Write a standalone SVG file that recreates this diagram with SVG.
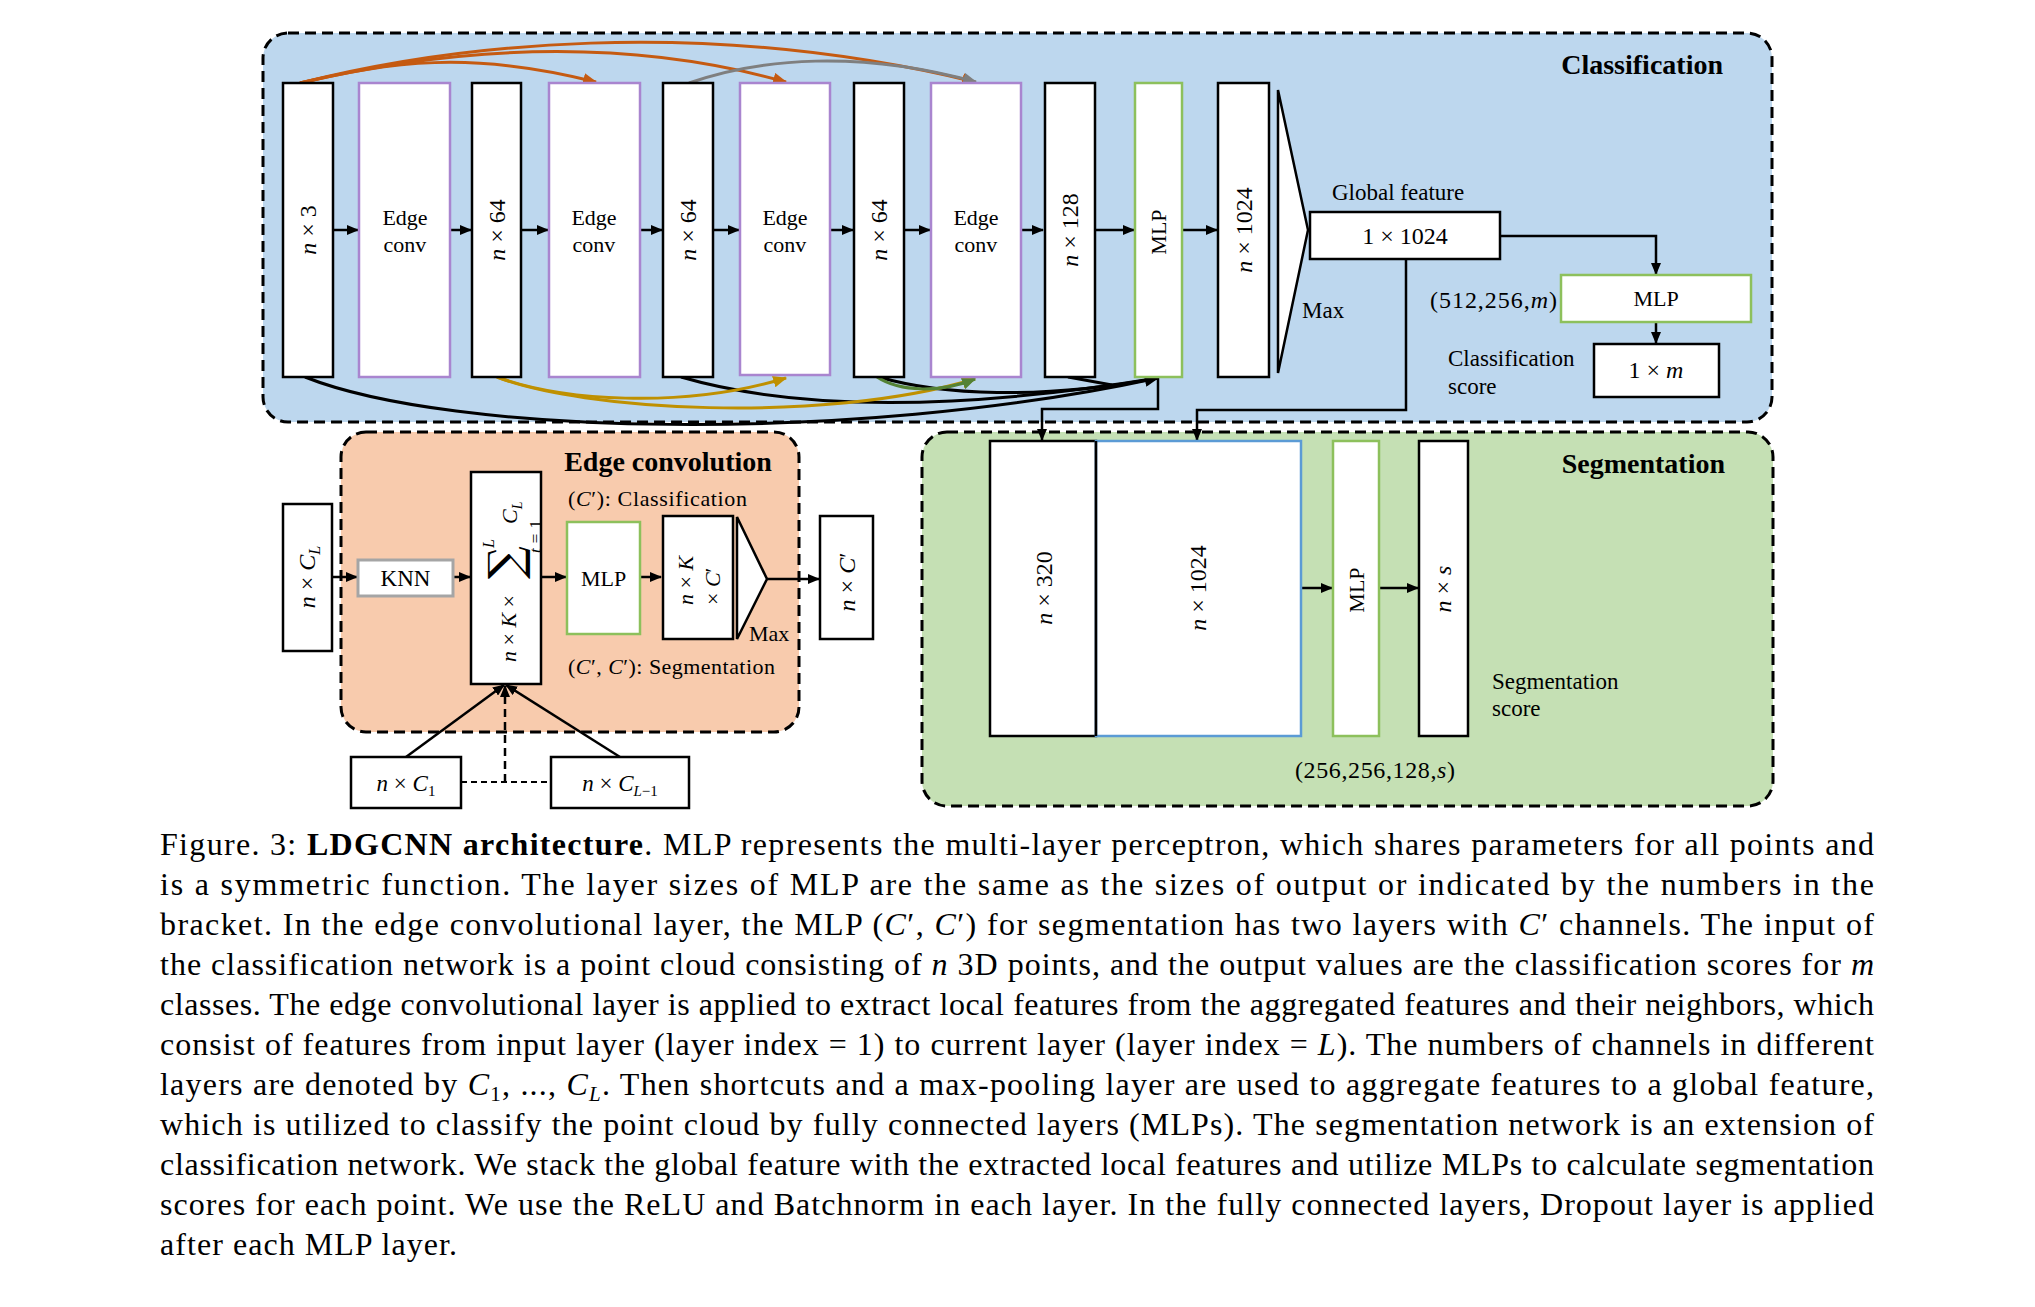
<svg xmlns="http://www.w3.org/2000/svg" width="2035" height="1307" viewBox="0 0 2035 1307">
<style>
.t{font-family:"Liberation Serif","Times New Roman",serif;fill:#000}
.m{font-style:italic}
.box{fill:#fff;stroke:#000;stroke-width:2.5}
.ec{fill:#fff;stroke:#A985CF;stroke-width:2.5}
.mlp{fill:#fff;stroke:#8DC05C;stroke-width:2.5}
.ln{fill:none;stroke:#000;stroke-width:2.5}
.cv{fill:none;stroke-width:3}
.cap{font-family:"Liberation Serif","Times New Roman",serif;font-size:32px;fill:#000}
.region{stroke:#000;stroke-width:3;stroke-dasharray:11 6}
</style>
<defs>
<marker id="ab" viewBox="0 0 12 10" refX="11" refY="5" markerWidth="12" markerHeight="10" markerUnits="userSpaceOnUse" orient="auto"><path d="M0,0 L12,5 L0,10 z" fill="#000"/></marker>
<marker id="ao" viewBox="0 0 12 10" refX="11" refY="5" markerWidth="14" markerHeight="12" markerUnits="userSpaceOnUse" orient="auto"><path d="M0,0 L12,5 L0,10 z" fill="#C55A11"/></marker>
<marker id="ag" viewBox="0 0 12 10" refX="11" refY="5" markerWidth="14" markerHeight="12" markerUnits="userSpaceOnUse" orient="auto"><path d="M0,0 L12,5 L0,10 z" fill="#7F7F7F"/></marker>
<marker id="ay" viewBox="0 0 12 10" refX="11" refY="5" markerWidth="14" markerHeight="12" markerUnits="userSpaceOnUse" orient="auto"><path d="M0,0 L12,5 L0,10 z" fill="#BF9000"/></marker>
<marker id="an" viewBox="0 0 12 10" refX="11" refY="5" markerWidth="14" markerHeight="12" markerUnits="userSpaceOnUse" orient="auto"><path d="M0,0 L12,5 L0,10 z" fill="#548235"/></marker>
<marker id="ak" viewBox="0 0 12 10" refX="11" refY="5" markerWidth="15" markerHeight="12" markerUnits="userSpaceOnUse" orient="auto"><path d="M0,0 L12,5 L0,10 z" fill="#000"/></marker>
</defs>
<rect width="2035" height="1307" fill="#fff"/>

<!-- Regions -->
<g id="region-classification">
<rect class="region" x="263" y="33" width="1509" height="389" rx="25" fill="#BDD7EE"/>
<text class="t" x="1723" y="74" font-size="28" font-weight="bold" text-anchor="end">Classification</text>
</g>
<g id="region-edgeconv">
<rect class="region" x="341" y="432" width="458" height="300" rx="25" fill="#F8CBAD"/>
<text class="t" x="668" y="471" font-size="28" font-weight="bold" text-anchor="middle">Edge convolution</text>
<text class="t" x="568" y="506" font-size="22" textLength="179" lengthAdjust="spacing">(<tspan class="m">C</tspan>′): Classification</text>
<text class="t" x="568" y="674" font-size="22" textLength="207" lengthAdjust="spacing">(<tspan class="m">C</tspan>′, <tspan class="m">C</tspan>′): Segmentation</text>
</g>
<g id="region-segmentation">
<rect class="region" x="922" y="432" width="851" height="374" rx="25" fill="#C5E0B4"/>
<text class="t" x="1725" y="473" font-size="28" font-weight="bold" text-anchor="end">Segmentation</text>
</g>

<!-- Connectors -->
<g id="connectors">
<path class="ln" d="M333 230 H358" marker-end="url(#ab)"/>
<path class="ln" d="M450 230 H471" marker-end="url(#ab)"/>
<path class="ln" d="M521 230 H548" marker-end="url(#ab)"/>
<path class="ln" d="M640 230 H662" marker-end="url(#ab)"/>
<path class="ln" d="M713 230 H739" marker-end="url(#ab)"/>
<path class="ln" d="M830 230 H853" marker-end="url(#ab)"/>
<path class="ln" d="M904 230 H930" marker-end="url(#ab)"/>
<path class="ln" d="M1021 230 H1043" marker-end="url(#ab)"/>
<path class="ln" d="M1095 230 H1134" marker-end="url(#ab)"/>
<path class="ln" d="M1182 230 H1217" marker-end="url(#ab)"/>
<path class="cv" stroke="#C55A11" d="M300 83 C390 62 470 50 596 82" marker-end="url(#ao)"/>
<path class="cv" stroke="#C55A11" d="M300 83 C420 55 600 30 786 82" marker-end="url(#ao)"/>
<path class="cv" stroke="#C55A11" d="M300 83 C450 45 700 15 975 82" marker-end="url(#ao)"/>
<path class="cv" stroke="#7F7F7F" d="M689 83 C760 58 860 50 976 82" marker-end="url(#ag)"/>
<path class="cv" stroke="#000" d="M681 377 C760 400 900 420 1158 378"/>
<path class="cv" stroke="#000" d="M879 377 C940 395 1040 400 1158 378"/>
<path class="cv" stroke="#000" d="M1068 377 L1112 385"/>
<path class="cv" stroke="#000" d="M305 377 C450 435 850 445 1158 378" marker-end="url(#ak)"/>
<path class="cv" stroke="#BF9000" d="M497 377 C560 400 680 410 786 378" marker-end="url(#ay)"/>
<path class="cv" stroke="#BF9000" d="M497 377 C580 410 820 425 975 379" marker-end="url(#ay)"/>
<path class="cv" stroke="#548235" d="M877 377 C900 392 940 393 975 379" marker-end="url(#an)"/>
<path class="ln" d="M1500 236 H1656 V274" marker-end="url(#ab)"/>
<path class="ln" d="M1656 322 V343" marker-end="url(#ab)"/>
<path class="ln" d="M1158 378 V409 H1042 V440" marker-end="url(#ab)"/>
<path class="ln" d="M1406 259 V410 H1197 V440" marker-end="url(#ab)"/>
<path class="ln" d="M1300 588 H1332" marker-end="url(#ab)"/>
<path class="ln" d="M1379 588 H1418" marker-end="url(#ab)"/>
<path class="ln" d="M332 577 H357" marker-end="url(#ab)"/>
<path class="ln" d="M453 577 H470" marker-end="url(#ab)"/>
<path class="ln" d="M541 577 H566" marker-end="url(#ab)"/>
<path class="ln" d="M640 577 H661" marker-end="url(#ab)"/>
<path class="ln" d="M767 579 H819" marker-end="url(#ab)"/>
<path class="ln" d="M406 757 L504 685" marker-end="url(#ab)"/>
<path class="ln" d="M620 757 L506 685" marker-end="url(#ab)"/>
<path fill="none" stroke="#000" stroke-width="2" stroke-dasharray="6 4" d="M461 782 H551"/>
<path fill="none" stroke="#000" stroke-width="2.5" stroke-dasharray="8 5" d="M505 782 V686" marker-end="url(#ab)"/>
</g>

<!-- Top row nodes -->
<g id="n-in">
<rect class="box" x="283" y="83" width="50" height="294"/>
<text class="t" transform="rotate(-90)" x="-230" y="316" font-size="24" text-anchor="middle"><tspan class="m">n</tspan> × 3</text>
</g>
<g id="ec1">
<rect class="ec" x="359" y="83" width="91" height="294"/>
<text class="t" x="405" y="225" font-size="22" text-anchor="middle">Edge</text>
<text class="t" x="405" y="252" font-size="22" text-anchor="middle">conv</text>
</g>
<g id="f1">
<rect class="box" x="472" y="83" width="49" height="294"/>
<text class="t" transform="rotate(-90)" x="-230" y="505" font-size="24" text-anchor="middle"><tspan class="m">n</tspan> × 64</text>
</g>
<g id="ec2">
<rect class="ec" x="549" y="83" width="91" height="294"/>
<text class="t" x="594" y="225" font-size="22" text-anchor="middle">Edge</text>
<text class="t" x="594" y="252" font-size="22" text-anchor="middle">conv</text>
</g>
<g id="f2">
<rect class="box" x="663" y="83" width="50" height="294"/>
<text class="t" transform="rotate(-90)" x="-230" y="696" font-size="24" text-anchor="middle"><tspan class="m">n</tspan> × 64</text>
</g>
<g id="ec3">
<rect class="ec" x="740" y="83" width="90" height="292"/>
<text class="t" x="785" y="225" font-size="22" text-anchor="middle">Edge</text>
<text class="t" x="785" y="252" font-size="22" text-anchor="middle">conv</text>
</g>
<g id="f3">
<rect class="box" x="854" y="83" width="50" height="294"/>
<text class="t" transform="rotate(-90)" x="-230" y="887" font-size="24" text-anchor="middle"><tspan class="m">n</tspan> × 64</text>
</g>
<g id="ec4">
<rect class="ec" x="931" y="83" width="90" height="294"/>
<text class="t" x="976" y="225" font-size="22" text-anchor="middle">Edge</text>
<text class="t" x="976" y="252" font-size="22" text-anchor="middle">conv</text>
</g>
<g id="f4">
<rect class="box" x="1045" y="83" width="50" height="294"/>
<text class="t" transform="rotate(-90)" x="-230" y="1078" font-size="24" text-anchor="middle"><tspan class="m">n</tspan> × 128</text>
</g>
<g id="mlp1">
<rect class="mlp" x="1135" y="83" width="47" height="294"/>
<text class="t" transform="rotate(-90)" x="-232" y="1166" font-size="22" text-anchor="middle">MLP</text>
</g>
<g id="f5">
<rect class="box" x="1218" y="83" width="51" height="294"/>
<text class="t" transform="rotate(-90)" x="-230" y="1252" font-size="24" text-anchor="middle"><tspan class="m">n</tspan> × 1024</text>
</g>
<g id="maxpool">
<path d="M1278 90 L1308 230 L1278 373 Z" fill="#fff" stroke="#000" stroke-width="2.5"/>
<text class="t" x="1302" y="318" font-size="23">Max</text>
</g>
<g id="global">
<text class="t" x="1332" y="200" font-size="23">Global feature</text>
<rect class="box" x="1310" y="212" width="190" height="47"/>
<text class="t" x="1405" y="244" font-size="24" text-anchor="middle">1 × 1024</text>
</g>
<g id="mlp-cls">
<text class="t" x="1430" y="308" font-size="24" textLength="127" lengthAdjust="spacing">(512,256,<tspan class="m">m</tspan>)</text>
<rect class="mlp" x="1561" y="275" width="190" height="47"/>
<text class="t" x="1656" y="306" font-size="22" text-anchor="middle">MLP</text>
</g>
<g id="cls-score">
<text class="t" x="1448" y="366" font-size="23">Classification</text>
<text class="t" x="1448" y="394" font-size="23">score</text>
<rect class="box" x="1594" y="344" width="125" height="53"/>
<text class="t" x="1656" y="378" font-size="24" text-anchor="middle">1 × <tspan class="m">m</tspan></text>
</g>

<!-- Edge convolution nodes -->
<g id="ec-in">
<rect class="box" x="283" y="504" width="49" height="147"/>
<text class="t" transform="rotate(-90)" x="-577" y="315" font-size="24" text-anchor="middle"><tspan class="m">n</tspan> × <tspan class="m">C</tspan><tspan class="m" font-size="16" dy="5">L</tspan></text>
</g>
<g id="knn">
<rect x="358" y="560" width="95" height="36" fill="#fff" stroke="#A5A5A5" stroke-width="3"/>
<text class="t" x="405.5" y="586" font-size="23" text-anchor="middle">KNN</text>
</g>
<g id="agg">
<rect class="box" x="471" y="472" width="70" height="212"/>
<g transform="rotate(-90)">
<text class="t" x="-662" y="516" font-size="22"><tspan class="m">n</tspan> × <tspan class="m">K</tspan> ×</text>
<text x="-579" y="521" font-size="46" font-family="DejaVu Serif, serif">∑</text>
<text class="t m" x="-548" y="494" font-size="16">L</text>
<text class="t" x="-553" y="541" font-size="17" textLength="33" lengthAdjust="spacing"><tspan class="m">t</tspan>=1</text>
<text class="t" x="-524" y="517" font-size="22"><tspan class="m">C</tspan><tspan class="m" font-size="14" dy="5">L</tspan></text>
</g>
</g>
<g id="mlp-ec">
<rect class="mlp" x="567" y="522" width="73" height="112"/>
<text class="t" x="603.5" y="586" font-size="22" text-anchor="middle">MLP</text>
</g>
<g id="nkc">
<rect class="box" x="663" y="516" width="70" height="123"/>
<g transform="rotate(-90)">
<text class="t" x="-605" y="693" font-size="22"><tspan class="m">n</tspan> × <tspan class="m">K</tspan></text>
<text class="t" x="-605" y="720" font-size="22">× <tspan class="m">C</tspan>′</text>
</g>
</g>
<g id="ec-max">
<path d="M737 517 L767 579 L737 639 Z" fill="#fff" stroke="#000" stroke-width="2.5"/>
<text class="t" x="749" y="641" font-size="22">Max</text>
</g>
<g id="ec-out">
<rect class="box" x="820" y="516" width="53" height="123"/>
<text class="t" transform="rotate(-90)" x="-582" y="855" font-size="24" text-anchor="middle"><tspan class="m">n</tspan> × <tspan class="m">C</tspan>′</text>
</g>
<g id="c1">
<rect class="box" x="351" y="757" width="110" height="51"/>
<text class="t" x="406" y="791" font-size="23" text-anchor="middle"><tspan class="m">n</tspan> × <tspan class="m">C</tspan><tspan font-size="15" dy="5">1</tspan></text>
</g>
<g id="cl1">
<rect class="box" x="551" y="757" width="138" height="51"/>
<text class="t" x="620" y="791" font-size="23" text-anchor="middle"><tspan class="m">n</tspan> × <tspan class="m">C</tspan><tspan font-size="15" dy="5"><tspan class="m">L</tspan>−1</tspan></text>
</g>

<!-- Segmentation nodes -->
<g id="seg-320">
<rect class="box" x="990" y="441" width="106" height="295"/>
<text class="t" transform="rotate(-90)" x="-588" y="1052" font-size="24" text-anchor="middle"><tspan class="m">n</tspan> × 320</text>
</g>
<g id="seg-1024">
<rect x="1096" y="441" width="205" height="295" fill="#fff" stroke="#5B9BD5" stroke-width="2.5"/>
<line x1="1096" y1="441" x2="1096" y2="736" stroke="#000" stroke-width="2.5"/>
<text class="t" transform="rotate(-90)" x="-588" y="1206" font-size="24" text-anchor="middle"><tspan class="m">n</tspan> × 1024</text>
</g>
<g id="seg-mlp">
<rect class="mlp" x="1333" y="441" width="46" height="295"/>
<text class="t" transform="rotate(-90)" x="-590" y="1364" font-size="22" text-anchor="middle">MLP</text>
</g>
<g id="seg-out">
<rect class="box" x="1419" y="441" width="49" height="295"/>
<text class="t" transform="rotate(-90)" x="-589" y="1451" font-size="24" text-anchor="middle"><tspan class="m">n</tspan> × <tspan class="m">s</tspan></text>
<text class="t" x="1492" y="689" font-size="23">Segmentation</text>
<text class="t" x="1492" y="716" font-size="23">score</text>
</g>
<text class="t" x="1295" y="778" font-size="24" textLength="160" lengthAdjust="spacing">(256,256,128,<tspan class="m">s</tspan>)</text>

<!-- Caption -->
<g id="caption">
<text class="cap" x="160" y="855" textLength="1714" lengthAdjust="spacing">Figure. 3: <tspan font-weight="bold">LDGCNN architecture</tspan>. MLP represents the multi-layer perceptron, which shares parameters for all points and</text>
<text class="cap" x="160" y="895" textLength="1714" lengthAdjust="spacing">is a symmetric function. The layer sizes of MLP are the same as the sizes of output or indicated by the numbers in the</text>
<text class="cap" x="160" y="935" textLength="1714" lengthAdjust="spacing">bracket. In the edge convolutional layer, the MLP (<tspan class="m">C</tspan>′, <tspan class="m">C</tspan>′) for segmentation has two layers with <tspan class="m">C</tspan>′ channels. The input of</text>
<text class="cap" x="160" y="975" textLength="1714" lengthAdjust="spacing">the classification network is a point cloud consisting of <tspan class="m">n</tspan> 3D points, and the output values are the classification scores for <tspan class="m">m</tspan></text>
<text class="cap" x="160" y="1015" textLength="1714" lengthAdjust="spacing">classes. The edge convolutional layer is applied to extract local features from the aggregated features and their neighbors, which</text>
<text class="cap" x="160" y="1055" textLength="1714" lengthAdjust="spacing">consist of features from input layer (layer index = 1) to current layer (layer index = <tspan class="m">L</tspan>). The numbers of channels in different</text>
<text class="cap" x="160" y="1095" textLength="1714" lengthAdjust="spacing">layers are denoted by <tspan class="m">C</tspan><tspan font-size="21" dy="6">1</tspan><tspan dy="-6">, ..., </tspan><tspan class="m">C</tspan><tspan class="m" font-size="21" dy="6">L</tspan><tspan dy="-6">. Then shortcuts and a max-pooling layer are used to aggregate features to a global feature,</tspan></text>
<text class="cap" x="160" y="1135" textLength="1714" lengthAdjust="spacing">which is utilized to classify the point cloud by fully connected layers (MLPs). The segmentation network is an extension of</text>
<text class="cap" x="160" y="1175" textLength="1714" lengthAdjust="spacing">classification network. We stack the global feature with the extracted local features and utilize MLPs to calculate segmentation</text>
<text class="cap" x="160" y="1215" textLength="1714" lengthAdjust="spacing">scores for each point. We use the ReLU and Batchnorm in each layer. In the fully connected layers, Dropout layer is applied</text>
<text class="cap" x="160" y="1255" textLength="297" lengthAdjust="spacing">after each MLP layer.</text>
</g>
</svg>
